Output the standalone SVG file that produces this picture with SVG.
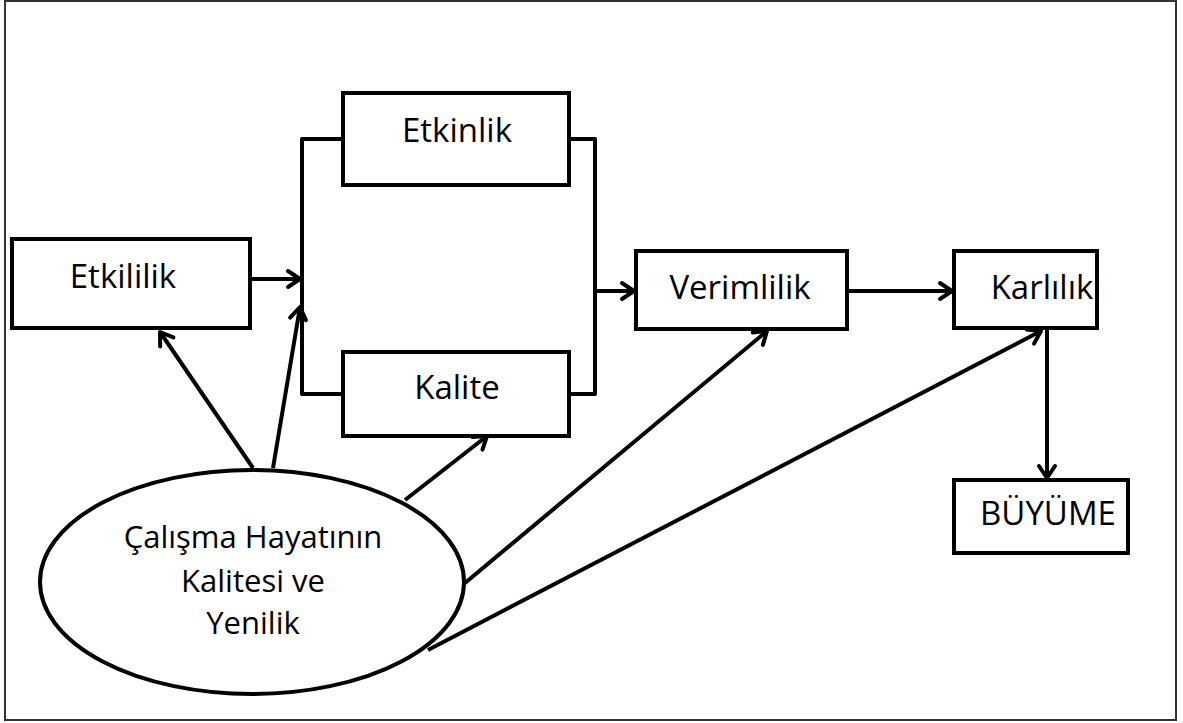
<svg xmlns="http://www.w3.org/2000/svg" width="1183" height="723" viewBox="0 0 1183 723">
  <defs>
    <style>
      .box { fill: #fff; stroke: #000; stroke-width: 4; }
      .lbl { font-family: "Open Sans", "Liberation Sans", sans-serif; font-size: 33px; fill: #000; text-anchor: middle; }
      .el { font-size: 31px; }
      .conn { fill: none; stroke: #000; stroke-width: 4; stroke-linejoin: round; }
    </style>
    <marker id="arr" markerUnits="userSpaceOnUse" viewBox="-16 -12 20 24" refX="0" refY="0" markerWidth="20" markerHeight="24" orient="auto" overflow="visible">
      <path d="M-12,-8 L0,0 L-12,8" fill="none" stroke="#000" stroke-width="4" stroke-linecap="round" stroke-linejoin="round"/>
    </marker>
  </defs>
  <rect x="0" y="0" width="1183" height="723" fill="#fff"/>
  <rect x="5" y="1" width="1171" height="719" fill="none" stroke="#333" stroke-width="2"/>

  <g id="connectors">
    <path class="conn" d="M343,139 H302 V394 H343"/>
    <path class="conn" d="M569,139 H595 V394 H569"/>
    <line class="conn" x1="250" y1="279" x2="300" y2="279" marker-end="url(#arr)"/>
    <line class="conn" x1="595" y1="291" x2="634" y2="291" marker-end="url(#arr)"/>
    <line class="conn" x1="849" y1="291" x2="952" y2="291" marker-end="url(#arr)"/>
    <line class="conn" x1="1047" y1="329" x2="1047" y2="478" marker-end="url(#arr)"/>
    <line class="conn" x1="253" y1="468" x2="160" y2="332" marker-end="url(#arr)"/>
    <line class="conn" x1="273" y1="468" x2="300" y2="307" marker-end="url(#arr)"/>
    <line class="conn" x1="405" y1="500" x2="487" y2="436" marker-end="url(#arr)"/>
    <line class="conn" x1="465" y1="583" x2="767" y2="331" marker-end="url(#arr)"/>
    <line class="conn" x1="428" y1="650" x2="1041" y2="331" marker-end="url(#arr)"/>
  </g>

  <g id="etkililik">
    <rect class="box" x="12" y="239" width="238" height="89"/>
    <text class="lbl" x="123" y="288">Etkililik</text>
  </g>
  <g id="etkinlik">
    <rect class="box" x="343" y="93" width="226" height="92"/>
    <text class="lbl" x="457" y="142">Etkinlik</text>
  </g>
  <g id="kalite">
    <rect class="box" x="343" y="352" width="226" height="84"/>
    <text class="lbl" x="457" y="399">Kalite</text>
  </g>
  <g id="verimlilik">
    <rect class="box" x="636" y="251" width="211" height="78"/>
    <text class="lbl" x="740" y="299">Verimlilik</text>
  </g>
  <g id="karlilik">
    <rect class="box" x="954" y="251" width="143" height="77"/>
    <text class="lbl" x="1042" y="299">Karlılık</text>
  </g>
  <g id="buyume">
    <rect class="box" x="954" y="480" width="174" height="73"/>
    <text class="lbl" x="1048" y="525">BÜYÜME</text>
  </g>
  <g id="calisma">
    <ellipse class="box" cx="252" cy="582" rx="212" ry="112"/>
    <text class="lbl el" x="253" y="548">Çalışma Hayatının</text>
    <text class="lbl el" x="253" y="592">Kalitesi ve</text>
    <text class="lbl el" x="253" y="634">Yenilik</text>
  </g>
</svg>
